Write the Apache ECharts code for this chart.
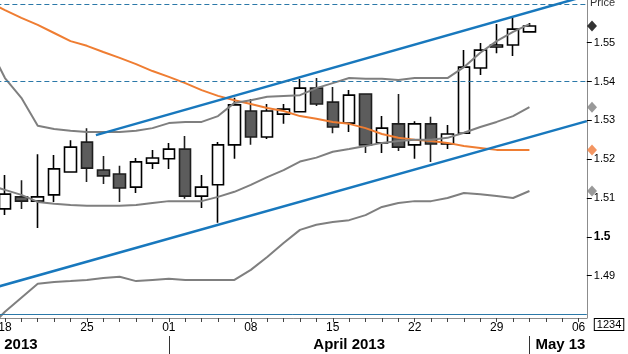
<!DOCTYPE html>
<html><head><meta charset="utf-8">
<script src="https://cdn.jsdelivr.net/npm/echarts@6/dist/echarts.min.js"></script>
<style>html,body{margin:0;padding:0;background:#fff}#c{width:628px;height:354px}</style>
</head><body><div id="c"></div>
<script>
// trading days (index 0 = Mar 15, partly off-screen)
const dates = ['2013-03-15',
 '2013-03-18','2013-03-19','2013-03-20','2013-03-21','2013-03-22',
 '2013-03-25','2013-03-26','2013-03-27','2013-03-28','2013-03-29',
 '2013-04-01','2013-04-02','2013-04-03','2013-04-04','2013-04-05',
 '2013-04-08','2013-04-09','2013-04-10','2013-04-11','2013-04-12',
 '2013-04-15','2013-04-16','2013-04-17','2013-04-18','2013-04-19',
 '2013-04-22','2013-04-23','2013-04-24','2013-04-25','2013-04-26',
 '2013-04-29','2013-04-30','2013-05-01','2013-05-02','2013-05-03',
 '2013-05-06'];
const candleOffset = 1; // candles start on Mar 18
const opens  = [1.5072,1.5103,1.5092,1.5108,1.5167,1.5244,1.5172,1.5162,1.5128,1.5190,1.5201,1.5226,1.5105,1.5134,1.5237,1.5324,1.5257,1.5316,1.5322,1.5383,1.5347,1.5293,1.5368,1.5242,1.5291,1.5237,1.5291,1.5239,1.5267,1.5435,1.5489,1.5494,1.5528];
const closes = [1.5110,1.5092,1.5103,1.5175,1.5231,1.5177,1.5157,1.5126,1.5193,1.5203,1.5226,1.5105,1.5128,1.5237,1.5340,1.5257,1.5324,1.5329,1.5383,1.5342,1.5283,1.5365,1.5237,1.5280,1.5231,1.5291,1.5239,1.5265,1.5437,1.5481,1.5494,1.5535,1.5543];
const lows   = [1.5056,1.5072,1.5023,1.5090,1.5165,1.5141,1.5136,1.5090,1.5113,1.5175,1.5175,1.5098,1.5074,1.5036,1.5201,1.5237,1.5252,1.5291,1.5321,1.5337,1.5267,1.5270,1.5216,1.5216,1.5221,1.5201,1.5193,1.5226,1.5265,1.5417,1.5473,1.5466,1.5528];
const highs  = [1.5159,1.5146,1.5213,1.5211,1.5249,1.5280,1.5208,1.5183,1.5203,1.5224,1.5242,1.5260,1.5159,1.5244,1.5358,1.5355,1.5342,1.5342,1.5407,1.5409,1.5386,1.5378,1.5370,1.5311,1.5368,1.5298,1.5309,1.5288,1.5481,1.5499,1.5548,1.5564,1.5551];
// indicator lines, Mar 15 .. May 1
const movingAvg = [1.5605,1.5584,1.5564,1.5546,1.5525,1.5504,1.5492,1.5476,1.5461,1.5445,1.5427,1.5412,1.5396,1.5378,1.5363,1.5352,1.5342,1.5332,1.5324,1.5311,1.5304,1.5296,1.5291,1.5280,1.5265,1.5255,1.5250,1.5247,1.5242,1.5234,1.5229,1.5224,1.5224,1.5224];
const bandUpper = [1.5492,1.5409,1.5358,1.5286,1.5278,1.5273,1.5270,1.5270,1.5270,1.5273,1.5280,1.5293,1.5296,1.5296,1.5311,1.5345,1.5352,1.5361,1.5363,1.5365,1.5383,1.5396,1.5409,1.5407,1.5407,1.5404,1.5409,1.5409,1.5409,1.5437,1.5474,1.5504,1.5528,1.5548];
const bandMiddle = [1.5134,1.5121,1.5108,1.5090,1.5085,1.5082,1.5080,1.5080,1.5080,1.5082,1.5087,1.5092,1.5092,1.5092,1.5103,1.5116,1.5134,1.5154,1.5172,1.5194,1.5204,1.5219,1.5226,1.5234,1.5242,1.5247,1.5250,1.5250,1.5255,1.5268,1.5283,1.5296,1.5311,1.5334];
const bandLower = [1.4765,1.4807,1.4843,1.4879,1.4884,1.4886,1.4889,1.4894,1.4897,1.4886,1.4889,1.4892,1.4889,1.4889,1.4889,1.4889,1.4915,1.4948,1.4984,1.5018,1.5031,1.5038,1.5043,1.5056,1.5077,1.5087,1.5092,1.5092,1.5100,1.5113,1.5110,1.5105,1.5100,1.5118];
// trend channel anchors [day index, price]
const upperTrend = [[6.55,1.5262],[36.5,1.5621]];
const lowerTrend = [[-0.5,1.4859],[36.5,1.5298]];
const dashedLevels = [1.5605,1.5425];
const solidLevel = 1.4832;
const solidLevelText = '1234';
const yTicks = [1.49,1.50,1.51,1.52,1.53,1.54,1.55];
const months = ['March 2013','April 2013','May 13'];
const monthStartIdx = [-10, 11, 33];

const Y_MIN = 1.4791, Y_MAX = 1.5610;
const narrow = "'Liberation Sans Narrow','Arial Narrow','Liberation Sans',sans-serif";
const chart = echarts.init(document.getElementById('c'));
const candleData = dates.map((d,k)=>{const i=k-candleOffset;return (i>=0&&i<opens.length)?[opens[i],closes[i],lows[i],highs[i]]:'-';});
const last = a => a[a.length-1];
const lineS = (data,color,w,z)=>({type:'line',xAxisIndex:0,yAxisIndex:0,data,symbol:'none',silent:true,z,
  lineStyle:{color,width:w},itemStyle:{color},animation:false});
const option = {
  animation:false,
  backgroundColor:'#ffffff',
  grid:[{left:-19.63,right:41.2,top:0,bottom:36,outerBoundsMode:'none',containLabel:false},
        {left:586,width:12,top:0,bottom:36,outerBoundsMode:'none',containLabel:false}],
  xAxis:[
    {type:'category',gridIndex:0,data:dates,boundaryGap:true,
     axisLine:{show:true,onZero:false,lineStyle:{color:'#8c8c8c',width:1}},
     axisTick:{show:true,alignWithLabel:true,interval:0,length:4,lineStyle:{color:'#444'}},
     axisLabel:{interval:(i)=>i%5===1,formatter:v=>v.slice(8),fontFamily:narrow,fontSize:12,color:'#000',margin:4},
     splitLine:{show:false}},
    {type:'value',gridIndex:0,min:-0.5,max:36.5,show:false},
    {type:'value',gridIndex:1,min:0,max:1,show:false}
  ],
  yAxis:[
    {type:'value',gridIndex:0,position:'right',min:Y_MIN,max:Y_MAX,scale:true,
     splitLine:{show:false},
     axisLine:{show:true,onZero:false,lineStyle:{color:'#8c8c8c',width:1}},
     axisTick:{show:true,customValues:yTicks,length:5,lineStyle:{color:'#000'}},
     axisLabel:{customValues:yTicks,margin:7,fontFamily:"'Liberation Sans',Arial,sans-serif",fontSize:11,color:'#000',
       formatter:v=>{const s=String(+(+v).toFixed(2));return Math.abs(v-1.5)<1e-9?'{b|'+s+'}':s;},
       rich:{b:{fontWeight:'bold',fontSize:12,fontFamily:"'Liberation Sans',Arial,sans-serif",color:'#000'}}}},
    {type:'value',gridIndex:1,min:Y_MIN,max:Y_MAX,show:false}
  ],
  series:[
    {type:'candlestick',xAxisIndex:0,yAxisIndex:0,data:candleData,barWidth:12,z:2,silent:true,
     itemStyle:{color:'#ffffff',color0:'#5c5c5c',borderColor:'#000000',borderColor0:'#1e1e1e',borderWidth:1.6},
     markLine:{silent:true,symbol:'none',animation:false,
       label:{show:false},
       data:[
         ...dashedLevels.map(v=>({yAxis:v,lineStyle:{color:'#2b78a8',width:1,type:[5,3]}})),
         {yAxis:solidLevel,lineStyle:{color:'#2b78a8',width:1,type:'solid'},
          label:{show:true,position:'end',formatter:solidLevelText,distance:8,offset:[0,10],
            fontFamily:"'Liberation Sans',Arial,sans-serif",fontSize:11,color:'#000',
            backgroundColor:'#fff',borderColor:'#000',borderWidth:1,padding:[0,2,0,2]}}
       ]}},
    lineS(movingAvg,'#ef7d32',2,3),
    lineS(bandUpper,'#7f7f7f',2,3),
    lineS(bandMiddle,'#7f7f7f',2,3),
    lineS(bandLower,'#7f7f7f',2,3),
    {type:'line',xAxisIndex:1,yAxisIndex:0,data:upperTrend,symbol:'none',silent:true,z:4,lineStyle:{color:'#1878bd',width:2.5}},
    {type:'line',xAxisIndex:1,yAxisIndex:0,data:lowerTrend,symbol:'none',silent:true,z:4,lineStyle:{color:'#1878bd',width:2.5}},
    {type:'scatter',xAxisIndex:2,yAxisIndex:1,symbol:'diamond',symbolSize:[10,11],silent:true,z:5,
     data:[
       {value:[0.5,last(closes)],itemStyle:{color:'#000'}},
       {value:[0.5,last(bandMiddle)],itemStyle:{color:'#808080'}},
       {value:[0.5,last(movingAvg)],itemStyle:{color:'#f07a3a'}},
       {value:[0.5,last(bandLower)],itemStyle:{color:'#808080'}}
     ]}
  ]
};
chart.setOption(option);

// bottom month row, positioned through the axis
const xs = monthStartIdx.map(k=>chart.convertToPixel({xAxisIndex:1},k));
const g = [];
for(let m=0;m<months.length;m++){
  if(m>0) g.push({type:'line',shape:{x1:Math.round(xs[m])+0.5,y1:336,x2:Math.round(xs[m])+0.5,y2:354},style:{stroke:'#333',lineWidth:1},silent:true});
  const isLast = m===months.length-1;
  const cx = isLast ? xs[m]+6 : (xs[m]+xs[m+1])/2;
  g.push({type:'text',x:cx,y:345,silent:true,style:{text:months[m],fill:'#000',font:"bold 15px "+narrow,
    textAlign:isLast?'left':'center',textVerticalAlign:'middle'}});
}
g.push({type:'text',x:590,y:-3,silent:true,style:{text:'Price',fill:'#333',font:"11px 'Liberation Sans',Arial,sans-serif",textAlign:'left',textVerticalAlign:'top'}});
chart.setOption({graphic:g});
</script></body></html>
